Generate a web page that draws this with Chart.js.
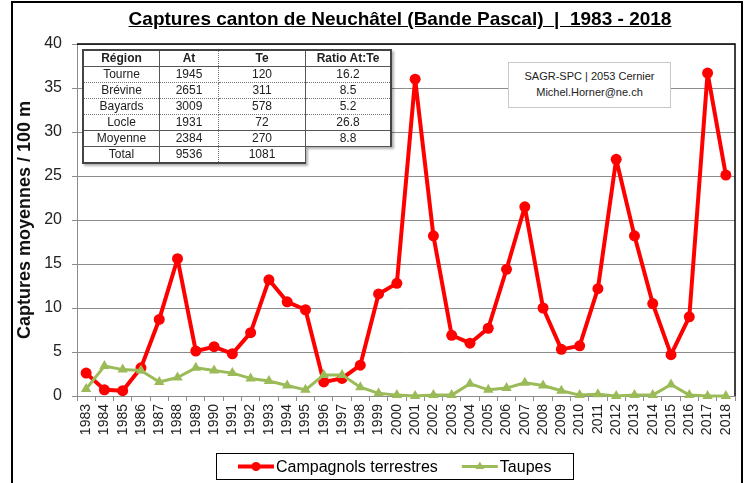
<!DOCTYPE html>
<html>
<head>
<meta charset="utf-8">
<script src="https://cdn.jsdelivr.net/npm/chart.js@4.4.1/dist/chart.umd.min.js"></script>
<style>
  body { margin: 0; background: #fff; }
  #wrap { position: relative; width: 748px; height: 483px; overflow: hidden; font-family: "Liberation Sans", Arial, sans-serif; }
  #chart { position: absolute; left: 0; top: 0; }
  #frame { position: absolute; left: 11px; top: 1px; width: 732px; height: 520px; border: 2px solid #000; box-sizing: border-box; pointer-events: none; }
  #title { position: absolute; left: 0; width: 800px; top: 7px; line-height: 24px; text-align: center; font-weight: bold; font-size: 19px; text-decoration: underline; white-space: pre; color: #000; }
  #stats { position: absolute; left: 82px; top: 49px; border-collapse: collapse; font-size: 12px; color: #222; border: 2px solid #444; filter: drop-shadow(2px 2px 1px rgba(0,0,0,0.3)); }
  #stats td, #stats th { border: 1px solid #555; height: 15px; line-height: 15px; padding: 0; text-align: center; background: #fff; }
  #stats th { font-weight: bold; }
  #stats tr.r0 td, #stats tr.r1 td, #stats tr.r2 td { border-bottom: 1px dotted #777; }
  #stats tr.r1 td, #stats tr.r2 td, #stats tr.r3 td { border-top: 1px dotted #777; }
  #stats td:nth-child(2), #stats th:nth-child(2) { border-right: 1px dotted #777; }
  #stats td:nth-child(3), #stats th:nth-child(3) { border-left: 1px dotted #777; }
  #stats td.blank { border-right: hidden; border-bottom: hidden; background: transparent; }
  #info { position: absolute; left: 508px; top: 62px; width: 163px; height: 46px; box-sizing: border-box; border: 1px solid #c8c8c8; background: #fff; font-size: 11px; line-height: 16px; padding-top: 5px; text-align: center; color: #222; }
</style>
</head>
<body>
<div id="wrap">
  <canvas id="chart" width="748" height="483"></canvas>
  <div id="title">Captures canton de Neuchâtel (Bande Pascal)  |  1983 - 2018</div>
  <table id="stats"></table>
  <div id="info">SAGR-SPC | 2053 Cernier<br>Michel.Horner@ne.ch</div>
  <div id="frame"></div>
</div>
<script>
const years = ["1983","1984","1985","1986","1987","1988","1989","1990","1991","1992","1993","1994",
  "1995","1996","1997","1998","1999","2000","2001","2002","2003","2004","2005","2006",
  "2007","2008","2009","2010","2011","2012","2013","2014","2015","2016","2017","2018"];

const campagnols = [2.6, 0.7, 0.6, 3.2, 8.7, 15.6, 5.1, 5.6, 4.8, 7.2, 13.2, 10.7,
  9.8, 1.6, 2.0, 3.5, 11.6, 12.8, 36.0, 18.2, 6.9, 6.0, 7.7, 14.4,
  21.5, 10.0, 5.3, 5.7, 12.2, 26.9, 18.2, 10.5, 4.7, 9.0, 36.7, 25.1];

const taupes = [0.8, 3.4, 3.0, 2.9, 1.6, 2.1, 3.2, 2.9, 2.6, 2.0, 1.7, 1.2,
  0.7, 2.4, 2.4, 1.0, 0.3, 0.1, 0.0, 0.1, 0.1, 1.4, 0.7, 0.9,
  1.5, 1.2, 0.6, 0.1, 0.2, 0.0, 0.1, 0.1, 1.3, 0.1, 0.0, 0.0];

const yTickValues = [0, 5, 10, 15, 20, 25, 30, 35, 40];

// summary table
const tableHeads = ["Région", "At", "Te", "Ratio At:Te"];
const regions = ["Tourne", "Brévine", "Bayards", "Locle", "Moyenne", "Total"];
const atCaptures = [1945, 2651, 3009, 1931, 2384, 9536];
const teCaptures = [120, 311, 578, 72, 270, 1081];
const ratioAtTe = [16.2, 8.5, 5.2, 26.8, 8.8];

const colWidths = [75, 58, 86, 84];
let html = "<tr>" + tableHeads.map((h, i) => `<th style="width:${colWidths[i]}px">${h}</th>`).join("") + "</tr>";
regions.forEach((r, i) => {
  html += `<tr class="r${i}"><td>${r}</td><td>${atCaptures[i]}</td><td>${teCaptures[i]}</td>`;
  html += i < ratioAtTe.length ? `<td>${ratioAtTe[i].toFixed(1)}</td>` : `<td class="blank"></td>`;
  html += "</tr>";
});
document.getElementById("stats").innerHTML = html;

// black frame on top and right of the plot area
const framePlugin = {
  id: "plotFrame",
  beforeDatasetsDraw(chart) {
    const { ctx, chartArea: a } = chart;
    ctx.save();
    ctx.strokeStyle = "#000";
    ctx.lineWidth = 1.5;
    ctx.beginPath();
    ctx.moveTo(a.left, a.top);
    ctx.lineTo(a.right, a.top);
    ctx.lineTo(a.right, a.bottom);
    ctx.stroke();
    ctx.restore();
  }
};

// boxed legend with line + marker icons
const legendPlugin = {
  id: "boxLegend",
  afterDraw(chart) {
    const ctx = chart.ctx;
    const sets = chart.data.datasets;
    ctx.save();
    ctx.font = '16px "Liberation Sans", Arial, sans-serif';
    const icon = 36, gap = 2, between = 24, padX = 22;
    const widths = sets.map(d => icon + gap + ctx.measureText(d.label).width);
    const total = widths.reduce((a, b) => a + b, 0) + between * (sets.length - 1) + padX * 2;
    const boxTop = 453, boxH = 26;
    const left = Math.round(395 - total / 2);
    ctx.fillStyle = "#fff";
    ctx.fillRect(left, boxTop, total, boxH);
    ctx.strokeStyle = "#000";
    ctx.lineWidth = 1;
    ctx.strokeRect(left + 0.5, boxTop + 0.5, Math.round(total), boxH);
    let x = left + padX;
    const cy = boxTop + boxH / 2 + 0.5;
    sets.forEach((d, i) => {
      ctx.strokeStyle = d.borderColor;
      ctx.lineWidth = d.borderWidth;
      ctx.beginPath();
      ctx.moveTo(x, cy);
      ctx.lineTo(x + icon, cy);
      ctx.stroke();
      ctx.fillStyle = d.backgroundColor;
      Chart.helpers.drawPoint(ctx, { pointStyle: d.pointStyle, radius: d.pointRadius - 1, borderWidth: 0, rotation: 0 }, x + icon / 2, cy);
      ctx.fillStyle = "#000";
      ctx.textBaseline = "middle";
      ctx.textAlign = "left";
      ctx.fillText(d.label, x + icon + gap, cy + 1);
      x += widths[i] + between;
    });
    ctx.restore();
  }
};

const grey = "#8c8c8c";
const ctx = document.getElementById("chart").getContext("2d");

const myChart = new Chart(ctx, {
  type: "line",
  data: {
    labels: years,
    datasets: [
      {
        label: "Campagnols terrestres",
        data: campagnols,
        borderColor: "#ff0000",
        backgroundColor: "#ff0000",
        borderWidth: 4,
        borderJoinStyle: "round",
        borderCapStyle: "round",
        pointStyle: "circle",
        pointRadius: 5.5,
        pointBorderWidth: 0,
        order: 1,
        clip: false,
      },
      {
        label: "Taupes",
        data: taupes,
        borderColor: "#9bbb59",
        backgroundColor: "#9bbb59",
        borderWidth: 3,
        borderJoinStyle: "round",
        borderCapStyle: "round",
        pointStyle: "triangle",
        pointRadius: 6,
        pointBorderWidth: 0,
        order: 0,
        clip: false,
      },
    ],
  },
  options: {
    responsive: false,
    animation: false,
    devicePixelRatio: 1,
    layout: { padding: { left: 0, top: 44, right: 13, bottom: 37 } },
    plugins: {
      legend: { display: false },
      tooltip: { enabled: false },
    },
    scales: {
      x: {
        offset: true,
        grid: { display: true, drawOnChartArea: false, drawTicks: true, tickLength: 5, offset: true, color: grey },
        border: { color: grey },
        ticks: {
          autoSkip: false, minRotation: 90, maxRotation: 90, padding: 3, color: "#222",
          font: { family: "Liberation Sans", size: 14 },
        },
        afterFit: s => { s.height = 50; },
      },
      y: {
        min: 0,
        max: 40,
        afterBuildTicks: s => { s.ticks = yTickValues.map(v => ({ value: v })); },
        grid: { color: grey, tickLength: 5 },
        border: { color: grey },
        ticks: { padding: 10, color: "#222", font: { family: "Liberation Sans", size: 16 } },
        title: {
          display: true,
          text: "Captures moyennes / 100 m",
          color: "#111",
          font: { family: "Liberation Sans", size: 18, weight: "bold" },
          padding: { top: 14, bottom: 0 },
        },
        afterFit: s => { s.width = 77; },
      },
    },
  },
  plugins: [framePlugin, legendPlugin],
});
</script>
</body>
</html>
